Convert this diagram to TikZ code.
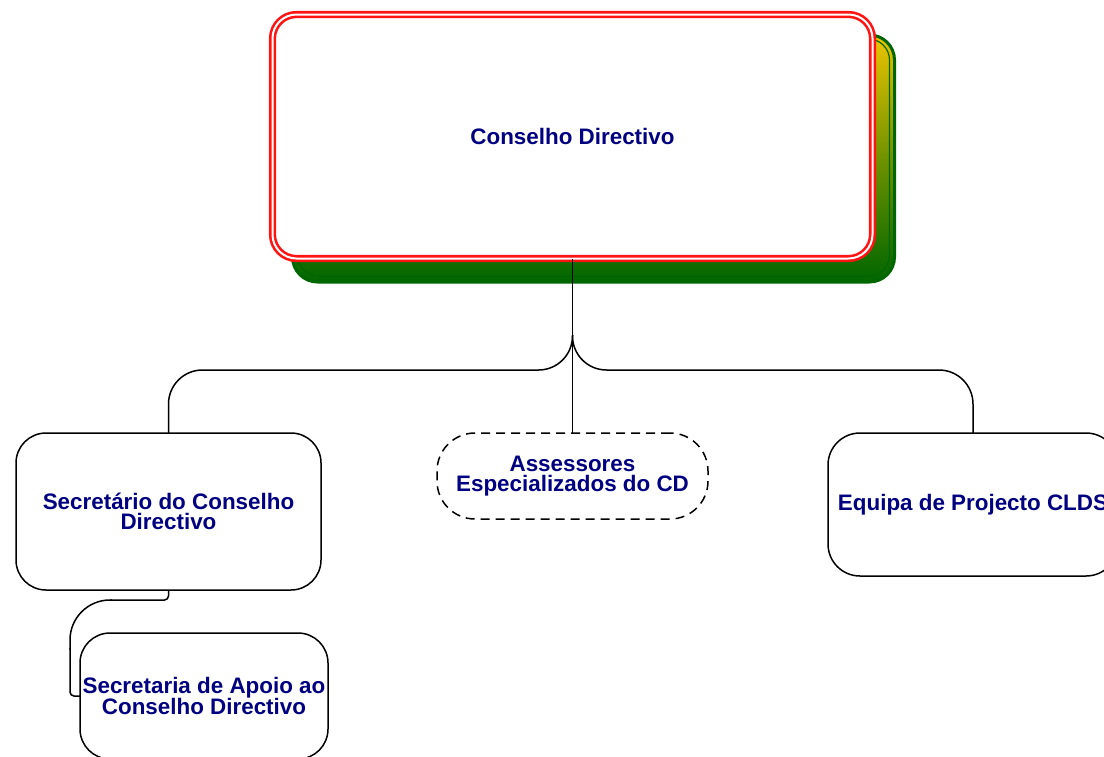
\documentclass[tikz,border=0pt]{standalone}
\usepackage{fontspec}
\setmainfont{Liberation Sans}
\begin{document}
\definecolor{navytext}{RGB}{0,0,128}
\definecolor{cdred}{RGB}{255,20,20}
\definecolor{shgreen}{RGB}{0,102,0}
\definecolor{shgold}{RGB}{236,196,0}
\definecolor{sholive}{RGB}{112,146,0}
\begin{tikzpicture}[x=1pt,y=-1pt,
  lbl/.style={font=\bfseries\fontsize{22.4}{20.5}\selectfont, text=navytext, align=center},
  unitbox/.style={lbl, draw=black, line width=1.5pt, fill=white, rectangle,
    inner sep=0pt, outer sep=0pt},
  conn/.style={draw=black, line width=1.5pt},
  topbox/.style={lbl, rectangle, rounded corners=24pt, draw=cdred, double=white,
    double distance=2pt, line width=2.6pt, fill=white, inner sep=0pt, outer sep=0pt,
    minimum width=600pt, minimum height=244pt},
  shadowbox/.style={rectangle, rounded corners=25pt, inner sep=0pt, outer sep=0pt,
    minimum width=602pt, minimum height=247pt}
]
\useasboundingbox (0,0) rectangle (1104,756);

% offset backdrop behind the board box
\node[shadowbox, top color=shgold, bottom color=shgreen, middle color=sholive,
  draw=shgreen, line width=3pt] (cdshadow) at (593.5,158.5) {};
\node[rectangle, rounded corners=21pt, inner sep=0pt, minimum width=592pt,
  minimum height=237pt, draw=shgreen, line width=1.2pt] (cdshadowin) at (593.5,157.5) {};

% board
\node[topbox] (cd) at (572.5,136.5) {Conselho Directivo};

% units
\node[unitbox, rounded corners=30pt, minimum width=305pt, minimum height=157pt]
  (sec) at (168.5,511.5) {Secretário do Conselho\\Directivo};
\node[unitbox, dashed, dash pattern=on 9pt off 6pt, rounded corners=38pt,
  minimum width=271pt, minimum height=86pt]
  (ass) at (572.5,476) {Assessores\\Especializados do CD};
\node[unitbox, rounded corners=32pt, minimum width=290pt, minimum height=143pt]
  (eq) at (973,504.5) {Equipa de Projecto CLDS};
\node[unitbox, rounded corners=30pt, minimum width=248pt, minimum height=126pt]
  (apoio) at (204,696) {Secretaria de Apoio ao\\Conselho Directivo};

% connectors
\coordinate (fork) at (572.5,335);
\coordinate (bus) at (0,370);
\coordinate (subbus) at (0,600);
\coordinate (rail) at (70,0);

\draw[conn] (cd.south) -- (ass.north);
\draw[conn, rounded corners=34pt] (fork) |- (sec.north |- bus) -- (sec.north);
\draw[conn, rounded corners=34pt] (fork) |- (eq.north |- bus) -- (eq.north);
\draw[conn, rounded corners=4pt] (sec.south) -- (sec.south |- subbus) -- (110,600);
\draw[conn, rounded corners=40pt] (112,600) -- (rail |- subbus) -- (70,650);
\draw[conn, rounded corners=4pt] (70,648) -- (rail |- apoio.west) -- (apoio.west);
\end{tikzpicture}
\end{document}
